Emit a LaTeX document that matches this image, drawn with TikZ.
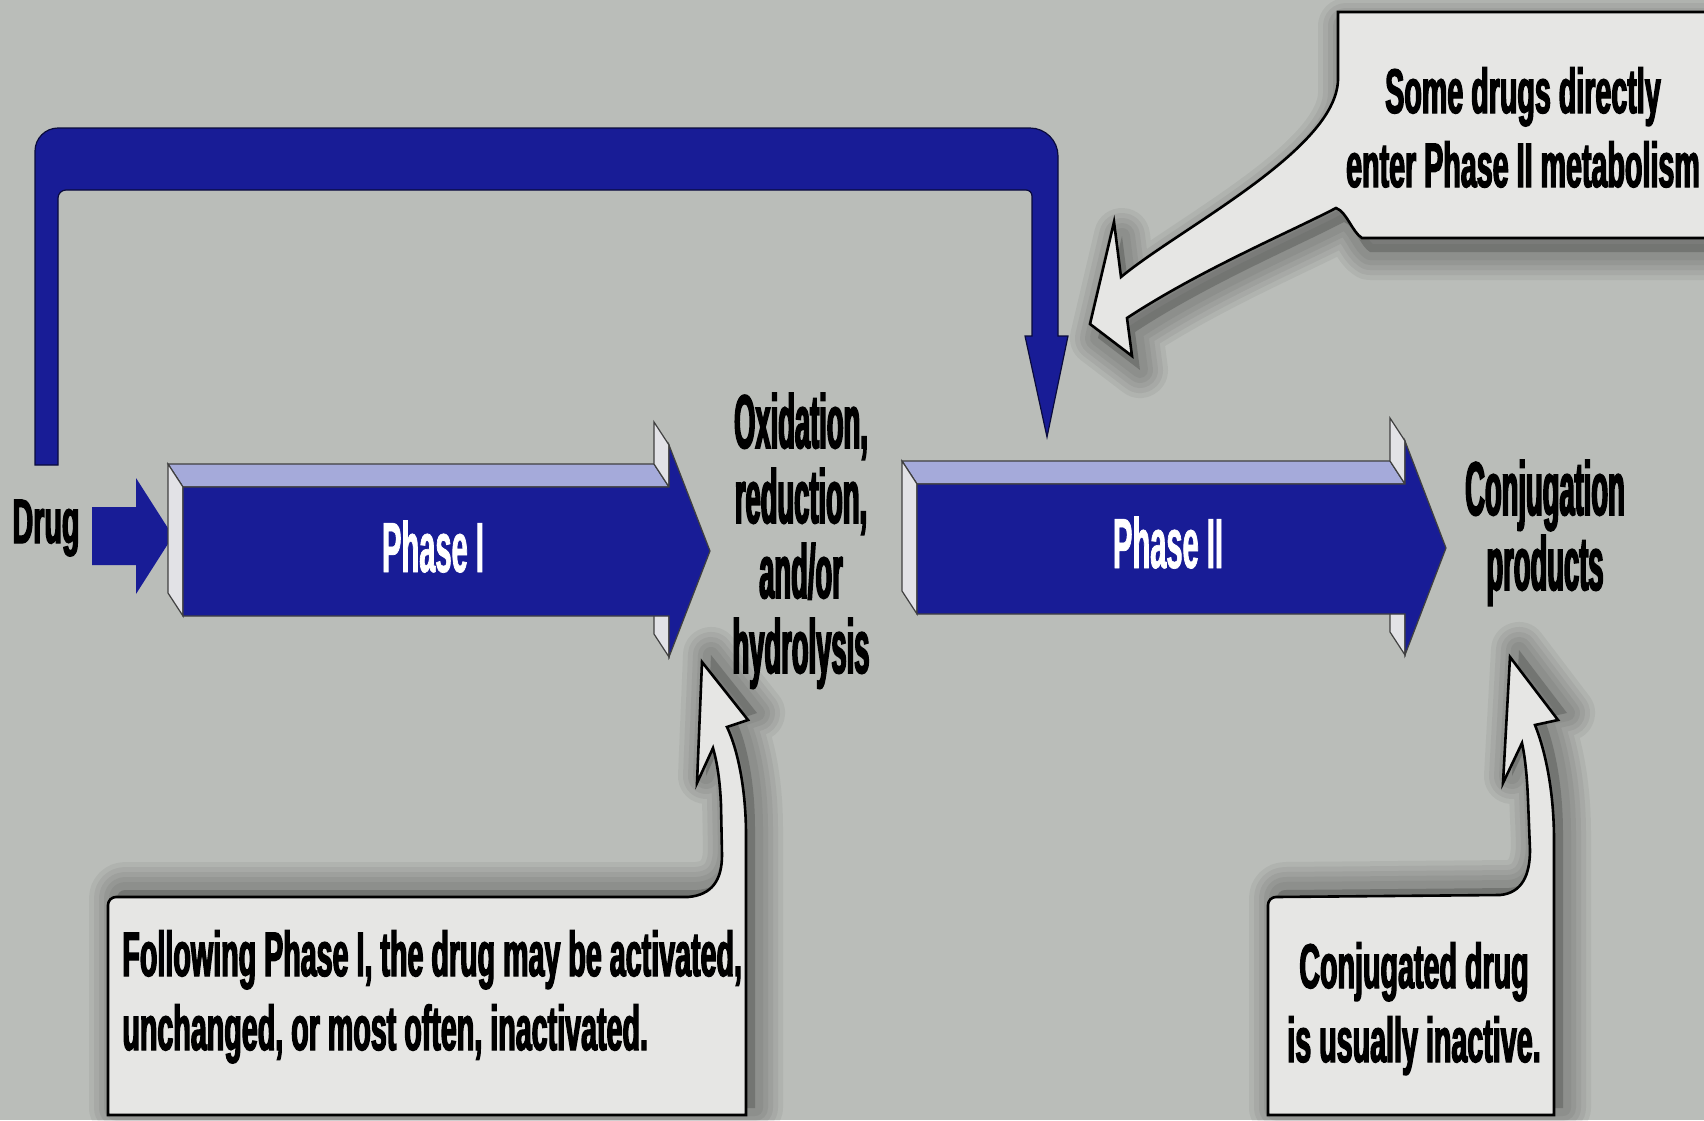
\documentclass[tikz,border=0pt]{standalone}
\usepackage{fontspec}
\newfontfamily\calfont{Liberation Sans}[FakeStretch=0.455, FakeBold=2]
\newfontfamily\colfont{Liberation Sans}[FakeStretch=0.36, FakeBold=2]
\newfontfamily\phfont{Liberation Sans}[FakeStretch=0.41, FakeBold=1]
\definecolor{bgc}{RGB}{186,189,185}
\definecolor{dblue}{RGB}{24,28,150}
\definecolor{lav}{RGB}{165,170,218}
\definecolor{sidec}{RGB}{226,226,230}
\definecolor{callc}{RGB}{230,230,228}
\newcommand\CLines[1]{\vtop{\let\\\cr\halign{\hfil##\hfil\cr#1\crcr}}}
\newcommand\LLines[1]{\vtop{\let\\\cr\halign{##\hfil\cr#1\crcr}}}
% L T B H HT HB TX TY
\newcommand\PhaseArrow[8]{%
 \filldraw[lav, draw=black!75, line width=0.6pt] (#1,#2) -- (#4,#2) -- (#4-15,#2-23) -- (#1-15,#2-23) -- cycle;
 \filldraw[sidec, draw=black!75, line width=0.6pt] (#1,#2) -- (#1,#3) -- (#1-15,#3-23) -- (#1-15,#2-23) -- cycle;
 \filldraw[sidec, draw=black!75, line width=0.6pt] (#4,#5) -- (#4,#2) -- (#4-15,#2-23) -- (#4-15,#5-23) -- cycle;
 \filldraw[sidec, draw=black!75, line width=0.6pt] (#4,#3) -- (#4,#6) -- (#4-15,#6-23) -- (#4-15,#3-23) -- cycle;
 \filldraw[dblue, draw=black!75, line width=0.6pt] (#1,#2) -- (#4,#2) -- (#4,#5) -- (#7,#8) -- (#4,#6) -- (#4,#3) -- (#1,#3) -- cycle;
}
\newcommand\SoftShadow[2]{%
 \begin{scope}[shift={#1}]
 \foreach \w in {56,46,36,26,16}{\draw[black, opacity=0.05, line width=\w*0.5pt, line join=round] #2;}
 \fill[black, opacity=0.18] #2;
 \end{scope}}
\def\CalloutA{(1338,80) -- (1338,12) -- (1712,12) -- (1712,238) -- (1362,238) .. controls (1352,232) and (1347,212) .. (1336,208) .. controls (1290,232) and (1200,270) .. (1127,318) -- (1132,356) -- (1090,324) -- (1114,222) -- (1121,277) .. controls (1180,228) and (1336,150) .. (1338,80) -- cycle}
\def\CalloutB{(746,1115) -- (108,1115) -- (108,905) .. controls (108,900.6) and (111.6,897) .. (116,897) -- (688,897) .. controls (712,895) and (722,880) .. (722,855) -- (721,805) .. controls (720,780) and (717,762) .. (713,748) -- (697,783) -- (702,662) -- (748,720) -- (727,727) .. controls (738,750) and (746,790) .. (746,835) -- cycle}
\def\CalloutC{(1554,1115) -- (1268,1115) -- (1268,905) .. controls (1268,900.6) and (1271.6,897) .. (1276,897) -- (1500,895) .. controls (1522,893) and (1530,875) .. (1530,850) -- (1528,800) .. controls (1527,775) and (1525,757) .. (1522,743) -- (1503,783) -- (1510,657) -- (1558,720) -- (1535,725) .. controls (1545,750) and (1554,790) .. (1554,840) -- cycle}
\begin{document}
\begin{tikzpicture}[x=0.5pt,y=-0.5pt,
  coltext/.style={inner sep=0pt, font=\colfont\bfseries\fontsize{38}{37.5}\selectfont},
  caltext/.style={inner sep=0pt, font=\calfont\bfseries\fontsize{31.5}{37}\selectfont},
  phtext/.style={inner sep=0pt, text=white, font=\phfont\bfseries\fontsize{35.5}{40}\selectfont},
  callout/.style={fill=callc, draw=black, line width=1.3pt, line join=miter},
  bluearrow/.style={fill=dblue, draw=black!60!dblue, line width=0.6pt}]
\useasboundingbox (0,0) rectangle (1704,1120);
\clip (0,0) rectangle (1704,1120);
\fill[bgc] (0,0) rectangle (1704,1120);

% bypass arrow
\filldraw[bluearrow] (35,465) -- (35,151) .. controls (35,138.4) and (45.4,128) .. (58,128) -- (1030,128) .. controls (1045.4,128) and (1058,140.6) .. (1058,156) -- (1058,336) -- (1068,336) -- (1047,437) -- (1025,336) -- (1032,336) -- (1032,196) .. controls (1032,192.7) and (1029.3,190) .. (1026,190) -- (66,190) .. controls (61.6,190) and (58,193.6) .. (58,198) -- (58,465) -- cycle;

% drug arrow
\fill[dblue] (92,507) -- (136,507) -- (136,478) -- (173,536) -- (136,594) -- (136,565) -- (92,565) -- cycle;

% phase arrows
\PhaseArrow{183}{487}{616}{669}{445}{657}{710}{551}
\PhaseArrow{917}{484}{614}{1405}{441}{655}{1446}{548}

% texts
\node[caltext, anchor=base] (drug) at (46,543) {Drug};
\node[phtext, anchor=base] (ph1) at (433,572) {Phase I};
\node[phtext, anchor=base] (ph2) at (1168,568) {Phase II};
\node[coltext, anchor=base] (oxid) at (801,448) {\CLines{Oxidation,\\reduction,\\and/or\\hydrolysis}};
\node[coltext, anchor=base] (conj) at (1545,515) {\CLines{Conjugation\\products}};

% callouts
\SoftShadow{(8,14)}{\CalloutA}
\SoftShadow{(9,-7)}{\CalloutB}
\SoftShadow{(9,-7)}{\CalloutC}
\filldraw[callout] \CalloutA;
\filldraw[callout] \CalloutB;
\filldraw[callout] \CalloutC;
\node[caltext, anchor=base] (noteA) at (1523,113) {\CLines{Some drugs directly\\enter Phase II metabolism}};
\node[caltext, anchor=base west] (noteB) at (122,976) {\LLines{Following Phase I, the drug may be activated,\\unchanged, or most often, inactivated.}};
\node[caltext, anchor=base] (noteC) at (1414,988) {\CLines{Conjugated drug\\is usually inactive.}};
\end{tikzpicture}
\end{document}
